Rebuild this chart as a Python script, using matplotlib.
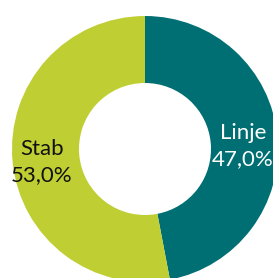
import matplotlib
matplotlib.use("Agg")
import matplotlib.pyplot as plt

categories = ["Linje", "Stab"]
values = [47.0, 53.0]
labels = ["Linje\n47,0%", "Stab\n53,0%"]
colors = ["#006f73", "#bfcf33"]
text_colors = ["white", "#111111"]

W, H = 273, 278
fig = plt.figure(figsize=(W / 100, H / 100), dpi=100)
ax = fig.add_axes([0, 0, 1, 1])

cx, cy, R = 145, H - 149, 133
wedges, _ = ax.pie(values, colors=colors, startangle=90, counterclock=False,
                   center=(cx, cy), radius=R, frame=True,
                   wedgeprops=dict(width=R - 66, linewidth=0))
ax.set_xlim(0, W)
ax.set_ylim(0, H)
ax.axis("off")

pos = [(243, H - 146), (42, H - 162)]
for lab, p, tc in zip(labels, pos, text_colors):
    ax.text(p[0], p[1], lab, ha="center", va="center", color=tc,
            fontsize=16, family="Lato", linespacing=1.35)

fig.savefig("out.png", dpi=100)
